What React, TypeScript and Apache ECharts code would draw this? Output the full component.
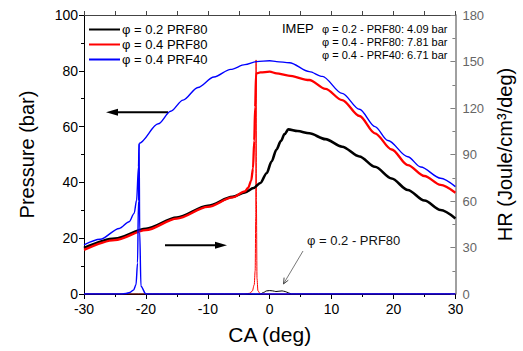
import React, { useEffect, useRef } from "react";
import * as echarts from "echarts";

// ---- data ----
const CA_P02 = [-30, -25, -20, -15, -10, -6, -4, -2.6, -1.5, -0.5, 0.3, 1.1, 1.8, 2.4, 3.0, 4.5, 6.4, 9, 11.7, 14.5, 17, 19.7, 22.3, 25, 27.6, 30];
const P_P02 = [16.5, 19.9, 23.4, 27.4, 31.6, 34.8, 36.4, 38.0, 39.8, 43.3, 47.5, 51.8, 54.8, 57.3, 59.0, 58.4, 57.6, 55.5, 52.8, 49.3, 45.6, 41.4, 37.3, 33.5, 30.1, 27.1];

const CA_P04 = [-30, -25, -20, -15, -10, -6, -4, -3.5, -3, -2.7, -2.5, -2.35, -2.2, -1.5, 0, 1.1, 3, 6.4, 9, 11.7, 14.5, 17, 19.7, 22.3, 25, 27.6, 30];
const P_P04 = [15.8, 19.3, 22.9, 27.0, 31.2, 34.6, 36.8, 38.0, 40.5, 45, 55, 67, 79, 79.4, 79.7, 79.1, 78.3, 76.7, 73.5, 69.5, 63.8, 57.6, 51.8, 46.2, 42.3, 39.1, 36.3];

const CA_P40 = [-30, -27.4, -24.3, -22.7, -21.9, -21.5, -21.2, -21.1, -18, -16, -14, -11.6, -9, -6.3, -4, -2.1, 0, 1.1, 3.2, 6.4, 8.5, 11.7, 14.5, 17, 19.1, 22.3, 24.4, 27.6, 30];
const P_P40 = [17.6, 19.6, 23.5, 25.9, 28.9, 33.7, 45.6, 54, 61, 65.5, 69.5, 74, 77.8, 80.5, 82.2, 83.3, 83.6, 83.3, 82.9, 79.7, 78, 71.9, 66.2, 60, 55, 49.2, 45.5, 41.5, 38.5];

const CA_HR02 = [-30, -1.5, -1, -0.5, 0, 0.5, 1, 1.5, 2, 2.5, 3, 3.5, 30];
const HR_HR02 = [0, 0, 1, 2, 2.2, 2, 1.6, 1.8, 2, 1.6, 0.8, 0, 0];

const CA_HR04 = [-30, -4, -3.2, -2.8, -2.5, -2.35, -2.25, -2.2, -2.15, -2.05, -1.9, -1.5, 30];
const HR_HR04 = [0, 0, 0.5, 2, 6, 15, 50, 151, 60, 10, 2, 0, 0];

const CA_HR40 = [-30, -24, -23.2, -22.6, -22, -21.6, -21.35, -21.2, -21.1, -21.0, -20.8, -20, 30];
const HR_HR40 = [0, 0, 0.3, 1, 2.5, 6, 20, 60, 97, 40, 5, 0, 0];

const X_TICKS = { min: -30, max: 30, interval: 10 };
const P_TICKS = { min: 0, max: 100, interval: 20 };
const HR_TICKS = { min: 0, max: 180, interval: 30 };

const LEGEND_NAMES = ["φ = 0.2 PRF80", "φ = 0.4 PRF80", "φ = 0.4 PRF40"];
const IMEP_LINES = ["φ = 0.2 - PRF80: 4.09 bar", "φ = 0.4 - PRF80: 7.81 bar", "φ = 0.4 - PRF40: 6.71 bar"];
const ANNOT = "φ = 0.2 - PRF80";

const zip = (xs: number[], ys: number[]) => xs.map((x, i) => [x, ys[i]]);

const FONT = "'Liberation Sans', Arial, sans-serif";

export default function App() {
  const ref = useRef<HTMLDivElement>(null);
  useEffect(() => {
    if (!ref.current) return;
    const chart = echarts.init(ref.current, undefined, { renderer: "svg" });
    const line = (name: string, xs: number[], ys: number[], color: string, width: number, yi: number) => ({
      name,
      type: "line",
      data: zip(xs, ys),
      yAxisIndex: yi,
      symbol: "none",
      smooth: 0.3,
      smoothMonotone: "x",
      lineStyle: { color, width },
      itemStyle: { color },
    });
    chart.setOption({
      animation: false,
      backgroundColor: "#fff",
      textStyle: { fontFamily: FONT },
      grid: { left: 84, right: 61, top: 15, bottom: 57 },
      legend: {
        data: LEGEND_NAMES,
        orient: "vertical",
        left: 88,
        top: 23,
        itemWidth: 31,
        itemHeight: 14,
        itemGap: 2,
        itemStyle: { opacity: 0 },
        textStyle: { fontSize: 13, color: "#000", fontFamily: FONT, padding: [0, 0, 0, -3] },
        padding: 0,
      },
      xAxis: [
        {
          type: "value",
          position: "bottom",
          ...X_TICKS,
          name: "CA (deg)",
          nameLocation: "middle",
          nameGap: 30,
          nameTextStyle: { fontSize: 21, color: "#000", fontFamily: FONT },
          axisLine: { show: true, onZero: false, lineStyle: { color: "#000", width: 1 } },
          axisTick: { show: true, length: 5, lineStyle: { color: "#000" } },
          minorTick: { show: true, splitNumber: 2, length: 3, lineStyle: { color: "#000" } },
          axisLabel: { fontSize: 14, color: "#000", margin: 8, fontFamily: FONT },
          splitLine: { show: false },
        },
        {
          type: "value",
          position: "top",
          min: -30,
          max: 30,
          interval: 5,
          axisLine: { show: true, onZero: false, lineStyle: { color: "#444", width: 1 } },
          axisTick: { show: true, length: 4, lineStyle: { color: "#444" } },
          axisLabel: { show: false },
          splitLine: { show: false },
        },
      ],
      yAxis: [
        {
          type: "value",
          position: "left",
          ...P_TICKS,
          name: "Pressure (bar)",
          nameLocation: "middle",
          nameGap: 47,
          nameRotate: 90,
          nameTextStyle: { fontSize: 20, color: "#000", fontFamily: FONT },
          axisLine: { show: true, onZero: false, lineStyle: { color: "#000", width: 1 } },
          axisTick: { show: true, length: 5, lineStyle: { color: "#000" } },
          minorTick: { show: true, splitNumber: 2, length: 3, lineStyle: { color: "#000" } },
          axisLabel: { fontSize: 14, color: "#000", margin: 6, fontFamily: FONT },
          splitLine: { show: false },
        },
        {
          type: "value",
          position: "right",
          ...HR_TICKS,
          name: "HR (Joule/cm³/deg)",
          nameLocation: "middle",
          nameGap: 35,
          nameRotate: 90,
          nameTextStyle: { fontSize: 20, color: "#000", fontFamily: FONT },
          axisLine: { show: true, onZero: false, lineStyle: { color: "#808080", width: 1.5 } },
          axisTick: { show: true, inside: true, length: 5, lineStyle: { color: "#808080" } },
          minorTick: { show: true, splitNumber: 2, length: 3, lineStyle: { color: "#808080" } },
          axisLabel: { fontSize: 13, color: "#666", margin: 7, fontFamily: FONT },
          splitLine: { show: false },
        },
      ],
      series: [
        line("HR " + LEGEND_NAMES[1], CA_HR04, HR_HR04, "#ff0000", 1, 1),
        line("HR " + LEGEND_NAMES[0], CA_HR02, HR_HR02, "#000000", 1, 1),
        line(LEGEND_NAMES[0], CA_P02, P_P02, "#000000", 2.6, 0),
        line(LEGEND_NAMES[1], CA_P04, P_P04, "#ff0000", 2.3, 0),
        line(LEGEND_NAMES[2], CA_P40, P_P40, "#0000ff", 1.4, 0),
        line("HR " + LEGEND_NAMES[2], CA_HR40, HR_HR40, "#0000ff", 1.4, 1),
      ],
      graphic: [
        { type: "text", left: 282, top: 22, style: { text: "IMEP", fontSize: 13, fill: "#000", fontFamily: FONT } },
        ...IMEP_LINES.map((t, i) => ({
          type: "text",
          left: 322,
          top: 23 + i * 13.4,
          style: { text: t, fontSize: 11, fill: "#000", fontFamily: FONT },
        })),
        { type: "text", left: 307, top: 234, style: { text: ANNOT, fontSize: 13, fill: "#111", fontFamily: FONT } },
        { type: "line", shape: { x1: 303, y1: 251, x2: 284, y2: 283 }, style: { stroke: "#555", lineWidth: 0.8 } },
        { type: "polyline", shape: { points: [[288.3, 280.2], [283.5, 284], [284.1, 277.6]] }, style: { stroke: "#333", lineWidth: 0.9, fill: null } },
        { type: "line", shape: { x1: 168, y1: 112.3, x2: 116, y2: 112.3 }, style: { stroke: "#000", lineWidth: 2 } },
        { type: "polygon", shape: { points: [[106, 112.3], [118, 108.8], [118, 115.8]] }, style: { fill: "#000" } },
        { type: "line", shape: { x1: 165, y1: 245.3, x2: 216, y2: 245.3 }, style: { stroke: "#000", lineWidth: 2 } },
        { type: "polygon", shape: { points: [[227, 245.3], [215, 241.8], [215, 248.8]] }, style: { fill: "#000" } },
      ],
    });
    return () => chart.dispose();
  }, []);
  return <div ref={ref} style={{ width: 523, height: 351, position: "absolute", left: 0, top: 0 }} />;
}
